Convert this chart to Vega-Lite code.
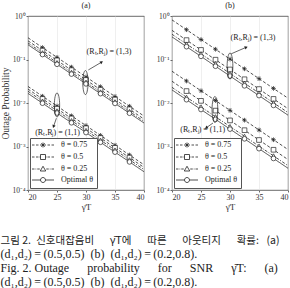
{
  "$schema": "https://vega.github.io/schema/vega-lite/v6.json",
  "background": "white",
  "padding": {"left": 0, "top": 1, "right": 0, "bottom": 0},
  "datasets": {
    "pts": [
      {"p":"a","g":"(1,3)","s":"θ = 0.75","x":20,"y":0.316},{"p":"a","g":"(1,3)","s":"θ = 0.75","x":22.5,"y":0.188},{"p":"a","g":"(1,3)","s":"θ = 0.75","x":25,"y":0.112},{"p":"a","g":"(1,3)","s":"θ = 0.75","x":27.5,"y":0.0668},{"p":"a","g":"(1,3)","s":"θ = 0.75","x":30,"y":0.0398},{"p":"a","g":"(1,3)","s":"θ = 0.75","x":32.5,"y":0.0237},{"p":"a","g":"(1,3)","s":"θ = 0.75","x":35,"y":0.0141},{"p":"a","g":"(1,3)","s":"θ = 0.75","x":37.5,"y":0.00841},{"p":"a","g":"(1,3)","s":"θ = 0.75","x":40,"y":0.00501},
      {"p":"a","g":"(1,3)","s":"θ = 0.5","x":20,"y":0.269},{"p":"a","g":"(1,3)","s":"θ = 0.5","x":22.5,"y":0.16},{"p":"a","g":"(1,3)","s":"θ = 0.5","x":25,"y":0.0955},{"p":"a","g":"(1,3)","s":"θ = 0.5","x":27.5,"y":0.0569},{"p":"a","g":"(1,3)","s":"θ = 0.5","x":30,"y":0.0339},{"p":"a","g":"(1,3)","s":"θ = 0.5","x":32.5,"y":0.0202},{"p":"a","g":"(1,3)","s":"θ = 0.5","x":35,"y":0.012},{"p":"a","g":"(1,3)","s":"θ = 0.5","x":37.5,"y":0.00716},{"p":"a","g":"(1,3)","s":"θ = 0.5","x":40,"y":0.00427},
      {"p":"a","g":"(1,3)","s":"θ = 0.25","x":20,"y":0.24},{"p":"a","g":"(1,3)","s":"θ = 0.25","x":22.5,"y":0.143},{"p":"a","g":"(1,3)","s":"θ = 0.25","x":25,"y":0.0851},{"p":"a","g":"(1,3)","s":"θ = 0.25","x":27.5,"y":0.0507},{"p":"a","g":"(1,3)","s":"θ = 0.25","x":30,"y":0.0302},{"p":"a","g":"(1,3)","s":"θ = 0.25","x":32.5,"y":0.018},{"p":"a","g":"(1,3)","s":"θ = 0.25","x":35,"y":0.0107},{"p":"a","g":"(1,3)","s":"θ = 0.25","x":37.5,"y":0.00638},{"p":"a","g":"(1,3)","s":"θ = 0.25","x":40,"y":0.0038},
      {"p":"a","g":"(1,3)","s":"Optimal θ","x":20,"y":0.219},{"p":"a","g":"(1,3)","s":"Optimal θ","x":22.5,"y":0.13},{"p":"a","g":"(1,3)","s":"Optimal θ","x":25,"y":0.0776},{"p":"a","g":"(1,3)","s":"Optimal θ","x":27.5,"y":0.0462},{"p":"a","g":"(1,3)","s":"Optimal θ","x":30,"y":0.0275},{"p":"a","g":"(1,3)","s":"Optimal θ","x":32.5,"y":0.0164},{"p":"a","g":"(1,3)","s":"Optimal θ","x":35,"y":0.00977},{"p":"a","g":"(1,3)","s":"Optimal θ","x":37.5,"y":0.00582},{"p":"a","g":"(1,3)","s":"Optimal θ","x":40,"y":0.00347},
      {"p":"a","g":"(1,1)","s":"θ = 0.75","x":20,"y":0.024},{"p":"a","g":"(1,1)","s":"θ = 0.75","x":22.5,"y":0.0143},{"p":"a","g":"(1,1)","s":"θ = 0.75","x":25,"y":0.00851},{"p":"a","g":"(1,1)","s":"θ = 0.75","x":27.5,"y":0.00507},{"p":"a","g":"(1,1)","s":"θ = 0.75","x":30,"y":0.00302},{"p":"a","g":"(1,1)","s":"θ = 0.75","x":32.5,"y":0.0018},{"p":"a","g":"(1,1)","s":"θ = 0.75","x":35,"y":0.00107},{"p":"a","g":"(1,1)","s":"θ = 0.75","x":37.5,"y":0.000638},{"p":"a","g":"(1,1)","s":"θ = 0.75","x":40,"y":0.00038},
      {"p":"a","g":"(1,1)","s":"θ = 0.5","x":20,"y":0.0209},{"p":"a","g":"(1,1)","s":"θ = 0.5","x":22.5,"y":0.0124},{"p":"a","g":"(1,1)","s":"θ = 0.5","x":25,"y":0.00741},{"p":"a","g":"(1,1)","s":"θ = 0.5","x":27.5,"y":0.00442},{"p":"a","g":"(1,1)","s":"θ = 0.5","x":30,"y":0.00263},{"p":"a","g":"(1,1)","s":"θ = 0.5","x":32.5,"y":0.00157},{"p":"a","g":"(1,1)","s":"θ = 0.5","x":35,"y":0.000933},{"p":"a","g":"(1,1)","s":"θ = 0.5","x":37.5,"y":0.000556},{"p":"a","g":"(1,1)","s":"θ = 0.5","x":40,"y":0.000331},
      {"p":"a","g":"(1,1)","s":"θ = 0.25","x":20,"y":0.0186},{"p":"a","g":"(1,1)","s":"θ = 0.25","x":22.5,"y":0.0111},{"p":"a","g":"(1,1)","s":"θ = 0.25","x":25,"y":0.00661},{"p":"a","g":"(1,1)","s":"θ = 0.25","x":27.5,"y":0.00394},{"p":"a","g":"(1,1)","s":"θ = 0.25","x":30,"y":0.00234},{"p":"a","g":"(1,1)","s":"θ = 0.25","x":32.5,"y":0.0014},{"p":"a","g":"(1,1)","s":"θ = 0.25","x":35,"y":0.000832},{"p":"a","g":"(1,1)","s":"θ = 0.25","x":37.5,"y":0.000496},{"p":"a","g":"(1,1)","s":"θ = 0.25","x":40,"y":0.000295},
      {"p":"a","g":"(1,1)","s":"Optimal θ","x":20,"y":0.0166},{"p":"a","g":"(1,1)","s":"Optimal θ","x":22.5,"y":0.00989},{"p":"a","g":"(1,1)","s":"Optimal θ","x":25,"y":0.00589},{"p":"a","g":"(1,1)","s":"Optimal θ","x":27.5,"y":0.00351},{"p":"a","g":"(1,1)","s":"Optimal θ","x":30,"y":0.00209},{"p":"a","g":"(1,1)","s":"Optimal θ","x":32.5,"y":0.00125},{"p":"a","g":"(1,1)","s":"Optimal θ","x":35,"y":0.000741},{"p":"a","g":"(1,1)","s":"Optimal θ","x":37.5,"y":0.000442},{"p":"a","g":"(1,1)","s":"Optimal θ","x":40,"y":0.000263},
      {"p":"b","g":"(1,3)","s":"θ = 0.75","x":20,"y":0.813},{"p":"b","g":"(1,3)","s":"θ = 0.75","x":22.5,"y":0.484},{"p":"b","g":"(1,3)","s":"θ = 0.75","x":25,"y":0.288},{"p":"b","g":"(1,3)","s":"θ = 0.75","x":27.5,"y":0.172},{"p":"b","g":"(1,3)","s":"θ = 0.75","x":30,"y":0.102},{"p":"b","g":"(1,3)","s":"θ = 0.75","x":32.5,"y":0.061},{"p":"b","g":"(1,3)","s":"θ = 0.75","x":35,"y":0.0363},{"p":"b","g":"(1,3)","s":"θ = 0.75","x":37.5,"y":0.0216},{"p":"b","g":"(1,3)","s":"θ = 0.75","x":40,"y":0.0129},
      {"p":"b","g":"(1,3)","s":"θ = 0.5","x":20,"y":0.468},{"p":"b","g":"(1,3)","s":"θ = 0.5","x":22.5,"y":0.279},{"p":"b","g":"(1,3)","s":"θ = 0.5","x":25,"y":0.166},{"p":"b","g":"(1,3)","s":"θ = 0.5","x":27.5,"y":0.0989},{"p":"b","g":"(1,3)","s":"θ = 0.5","x":30,"y":0.0589},{"p":"b","g":"(1,3)","s":"θ = 0.5","x":32.5,"y":0.0351},{"p":"b","g":"(1,3)","s":"θ = 0.5","x":35,"y":0.0209},{"p":"b","g":"(1,3)","s":"θ = 0.5","x":37.5,"y":0.0124},{"p":"b","g":"(1,3)","s":"θ = 0.5","x":40,"y":0.00741},
      {"p":"b","g":"(1,3)","s":"θ = 0.25","x":20,"y":0.38},{"p":"b","g":"(1,3)","s":"θ = 0.25","x":22.5,"y":0.227},{"p":"b","g":"(1,3)","s":"θ = 0.25","x":25,"y":0.135},{"p":"b","g":"(1,3)","s":"θ = 0.25","x":27.5,"y":0.0804},{"p":"b","g":"(1,3)","s":"θ = 0.25","x":30,"y":0.0479},{"p":"b","g":"(1,3)","s":"θ = 0.25","x":32.5,"y":0.0285},{"p":"b","g":"(1,3)","s":"θ = 0.25","x":35,"y":0.017},{"p":"b","g":"(1,3)","s":"θ = 0.25","x":37.5,"y":0.0101},{"p":"b","g":"(1,3)","s":"θ = 0.25","x":40,"y":0.00603},
      {"p":"b","g":"(1,3)","s":"Optimal θ","x":20,"y":0.331},{"p":"b","g":"(1,3)","s":"Optimal θ","x":22.5,"y":0.197},{"p":"b","g":"(1,3)","s":"Optimal θ","x":25,"y":0.118},{"p":"b","g":"(1,3)","s":"Optimal θ","x":27.5,"y":0.07},{"p":"b","g":"(1,3)","s":"Optimal θ","x":30,"y":0.0417},{"p":"b","g":"(1,3)","s":"Optimal θ","x":32.5,"y":0.0248},{"p":"b","g":"(1,3)","s":"Optimal θ","x":35,"y":0.0148},{"p":"b","g":"(1,3)","s":"Optimal θ","x":37.5,"y":0.00881},{"p":"b","g":"(1,3)","s":"Optimal θ","x":40,"y":0.00525},
      {"p":"b","g":"(1,1)","s":"θ = 0.75","x":20,"y":0.0537},{"p":"b","g":"(1,1)","s":"θ = 0.75","x":22.5,"y":0.032},{"p":"b","g":"(1,1)","s":"θ = 0.75","x":25,"y":0.0191},{"p":"b","g":"(1,1)","s":"θ = 0.75","x":27.5,"y":0.0114},{"p":"b","g":"(1,1)","s":"θ = 0.75","x":30,"y":0.00676},{"p":"b","g":"(1,1)","s":"θ = 0.75","x":32.5,"y":0.00403},{"p":"b","g":"(1,1)","s":"θ = 0.75","x":35,"y":0.0024},{"p":"b","g":"(1,1)","s":"θ = 0.75","x":37.5,"y":0.00143},{"p":"b","g":"(1,1)","s":"θ = 0.75","x":40,"y":0.000851},
      {"p":"b","g":"(1,1)","s":"θ = 0.5","x":20,"y":0.0316},{"p":"b","g":"(1,1)","s":"θ = 0.5","x":22.5,"y":0.0188},{"p":"b","g":"(1,1)","s":"θ = 0.5","x":25,"y":0.0112},{"p":"b","g":"(1,1)","s":"θ = 0.5","x":27.5,"y":0.00668},{"p":"b","g":"(1,1)","s":"θ = 0.5","x":30,"y":0.00398},{"p":"b","g":"(1,1)","s":"θ = 0.5","x":32.5,"y":0.00237},{"p":"b","g":"(1,1)","s":"θ = 0.5","x":35,"y":0.00141},{"p":"b","g":"(1,1)","s":"θ = 0.5","x":37.5,"y":0.000841},{"p":"b","g":"(1,1)","s":"θ = 0.5","x":40,"y":0.000501},
      {"p":"b","g":"(1,1)","s":"θ = 0.25","x":20,"y":0.0229},{"p":"b","g":"(1,1)","s":"θ = 0.25","x":22.5,"y":0.0136},{"p":"b","g":"(1,1)","s":"θ = 0.25","x":25,"y":0.00813},{"p":"b","g":"(1,1)","s":"θ = 0.25","x":27.5,"y":0.00484},{"p":"b","g":"(1,1)","s":"θ = 0.25","x":30,"y":0.00288},{"p":"b","g":"(1,1)","s":"θ = 0.25","x":32.5,"y":0.00172},{"p":"b","g":"(1,1)","s":"θ = 0.25","x":35,"y":0.00102},{"p":"b","g":"(1,1)","s":"θ = 0.25","x":37.5,"y":0.00061},{"p":"b","g":"(1,1)","s":"θ = 0.25","x":40,"y":0.000363},
      {"p":"b","g":"(1,1)","s":"Optimal θ","x":20,"y":0.02},{"p":"b","g":"(1,1)","s":"Optimal θ","x":22.5,"y":0.0119},{"p":"b","g":"(1,1)","s":"Optimal θ","x":25,"y":0.00708},{"p":"b","g":"(1,1)","s":"Optimal θ","x":27.5,"y":0.00422},{"p":"b","g":"(1,1)","s":"Optimal θ","x":30,"y":0.00251},{"p":"b","g":"(1,1)","s":"Optimal θ","x":32.5,"y":0.0015},{"p":"b","g":"(1,1)","s":"Optimal θ","x":35,"y":0.000891},{"p":"b","g":"(1,1)","s":"Optimal θ","x":37.5,"y":0.000531},{"p":"b","g":"(1,1)","s":"Optimal θ","x":40,"y":0.000316}
    ],
    "ann": [
      {"p":"a","k":"ell","x":29.9,"y":0.0295},
      {"p":"a","k":"ell","x":25,"y":0.009},
      {"p":"a","k":"arr","g":"(1,3)","x":30.4,"y":0.0575,"x2":32.7,"y2":0.0871},
      {"p":"a","k":"arr","g":"(1,1)","x":24.9,"y":0.00447,"x2":24.4,"y2":0.00288},
      {"p":"a","k":"head","g":"(1,3)","x":32.7,"y":0.0871},
      {"p":"a","k":"head","g":"(1,1)","x":24.4,"y":0.00288},
      {"p":"a","k":"lab","x":33.97,"y":0.148,"t":"(Rₜ,Rⱼ) = (1,3)"},
      {"p":"a","k":"lab","x":25.1,"y":0.00204,"t":"(Rₜ,Rⱼ) = (1,1)"},
      {"p":"b","k":"ell","x":30,"y":0.0708},
      {"p":"b","k":"ell","x":27.4,"y":0.00708},
      {"p":"b","k":"arr","g":"(1,3)","x":30.2,"y":0.135,"x2":32.8,"y2":0.191},
      {"p":"b","k":"arr","g":"(1,1)","x":27.07,"y":0.00347,"x2":25.9,"y2":0.00269},
      {"p":"b","k":"head","g":"(1,3)","x":32.8,"y":0.191},
      {"p":"b","k":"head","g":"(1,1)","x":25.9,"y":0.00269},
      {"p":"b","k":"lab","x":33.97,"y":0.309,"t":"(Rₜ,Rⱼ) = (1,3)"},
      {"p":"b","k":"lab","x":25.3,"y":0.00245,"t":"(Rₜ,Rⱼ) = (1,1)"}
    ]
  },
  "spacing": 9,
  "title": {
    "text": "그림 2.\u2002신호대잡음비\u2003\u2002γ̄T에\u2003\u2002따른\u2003\u2002아웃티지\u2003\u2002확률:\u2002 (a)",
    "subtitle": ["(d₁,d₂)\u2009=\u2009(0.5,0.5)\u2002(b)\u2002(d₁,d₂)\u2009=\u2009(0.2,0.8).", "Fig. 2. Outage\u2003\u2002probability\u2003\u2002for\u2003\u2002SNR\u2003\u2002γ̄T:\u2003\u2002(a)", "(d₁,d₂)\u2009=\u2009(0.5,0.5)\u2002(b)\u2002(d₁,d₂)\u2009=\u2009(0.2,0.8)."],
    "orient": "bottom",
    "anchor": "start",
    "frame": "bounds",
    "offset": 25,
    "font": "Noto Sans CJK KR",
    "fontSize": 10.5,
    "fontWeight": "normal",
    "lineHeight": 14,
    "color": "#222",
    "subtitleFont": "Liberation Serif",
    "subtitleFontSize": 12,
    "subtitleLineHeight": 14.3,
    "subtitlePadding": 2,
    "subtitleColor": "#222"
  },
  "hconcat": [
    {
      "width": 116,
      "height": 174,
      "title": {"text": "(a)", "font": "Liberation Serif", "fontSize": 8, "fontWeight": "normal", "offset": 2, "color": "#222"},
      "encoding": {
        "x": {"field": "x", "type": "quantitative", "title": "γ̄T",
          "scale": {"domain": [20, 40], "nice": false, "zero": false},
          "axis": {"values": [20, 25, 30, 35, 40], "labelFont": "Liberation Serif", "labelFontSize": 8, "labelColor": "#333", "tickSize": 2, "tickColor": "#666", "domain": false, "grid": true, "gridColor": "#e4e4e4", "gridWidth": 0.6, "labelPadding": 1, "titleFont": "Liberation Serif", "titleFontSize": 9, "titleFontWeight": "normal", "titlePadding": 1, "titleColor": "#333"}},
        "y": {"field": "y", "type": "quantitative", "title": "Outage Probability",
          "scale": {"type": "log", "domain": [0.0001, 1], "nice": false},
          "axis": {"values": [0.0001, 0.001, 0.01, 0.1, 1], "labelExpr": "['10⁰','10⁻¹','10⁻²','10⁻³','10⁻⁴'][round(-log(datum.value)/LN10)]", "labelFont": "Liberation Serif", "labelFontSize": 7.5, "labelColor": "#333", "tickSize": 2, "tickColor": "#666", "domain": false, "grid": false, "labelPadding": 1, "titleFont": "Liberation Serif", "titleFontSize": 9.5, "titleFontWeight": "normal", "titlePadding": 1, "titleColor": "#333"}}
      },
      "layer": [
        {"data": {"name": "pts"}, "transform": [{"filter": "datum.p == 'a'"}],
         "mark": {"type": "line", "stroke": "#222", "strokeWidth": 0.8},
         "encoding": {"detail": {"field": "g"},
           "strokeDash": {"field": "s", "scale": {"domain": ["θ = 0.75", "θ = 0.5", "θ = 0.25", "Optimal θ"], "range": [[3, 2], [3, 2], [3, 1.5, 1, 1.5], [1, 0]]}, "legend": null}}},
        {"data": {"name": "pts"}, "transform": [{"filter": "datum.p == 'a' && datum.x > 20 && datum.x < 40"}],
         "mark": {"type": "point", "filled": true, "fill": "white", "stroke": "#222", "strokeWidth": 0.7, "size": 22, "opacity": 1},
         "encoding": {"shape": {"field": "s", "scale": {"domain": ["θ = 0.75", "θ = 0.5", "θ = 0.25", "Optimal θ"], "range": ["M-1,0H1M0,-1V1M-0.7,-0.7L0.7,0.7M-0.7,0.7L0.7,-0.7", "square", "triangle-up", "circle"]}, "legend": null}}},
        {"data": {"name": "pts"}, "transform": [{"filter": "datum.p == 'a' && datum.g == '(1,3)' && datum.x == 20"}],
         "mark": {"type": "point", "filled": false, "stroke": "#222", "size": 0},
         "encoding": {"shape": {"field": "s", "scale": {"domain": ["θ = 0.75", "θ = 0.5", "θ = 0.25", "Optimal θ"], "range": [
             "M-4.4,0H-3.4M-2.8,0H-1.8M-1.2,0H1.2M1.8,0H2.8M3.4,0H4.4M0,-1V1M-0.7,-0.7L0.7,0.7M-0.7,0.7L0.7,-0.7",
             "M-4.4,0H-3.4M-2.8,0H-1.8M-1.4,0H-1M1,0H1.4M1.8,0H2.8M3.4,0H4.4M-1,-1H1V1H-1Z",
             "M-4.4,0H-3.4M-3,0H-2.7M-2.3,0H-1.3M1.3,0H2.3M2.7,0H3M3.4,0H4.4M0,-1.1L1.1,0.8H-1.1Z",
             "M-4.4,0H-1M1,0H4.4M-1,0A1,1 0 1,0 1,0A1,1 0 1,0 -1,0"]},
           "legend": {"title": null, "orient": "bottom-left", "offset": 2, "padding": 3, "strokeColor": "#555", "fillColor": "white", "symbolSize": 25, "symbolStrokeWidth": 0.8, "symbolStrokeColor": "#222", "symbolFillColor": "white", "symbolOpacity": 1, "symbolOffset": 6, "labelOffset": 14, "labelFont": "Liberation Serif", "labelFontSize": 8, "labelColor": "#222", "rowPadding": 2}}}},
        {"data": {"name": "ann"}, "transform": [{"filter": "datum.p == 'a' && datum.k == 'ell'"}],
         "mark": {"type": "point", "shape": "M0,-1A0.22,1 0 1,1 0,1A0.22,1 0 1,1 0,-1", "size": 576, "filled": false, "stroke": "#222", "strokeWidth": 0.7, "opacity": 1}},
        {"data": {"name": "ann"}, "transform": [{"filter": "datum.p == 'a' && datum.k == 'arr'"}],
         "mark": {"type": "rule", "stroke": "#222", "strokeWidth": 0.7},
         "encoding": {"x2": {"field": "x2"}, "y2": {"field": "y2"}}},
        {"data": {"name": "ann"}, "transform": [{"filter": "datum.p == 'a' && datum.k == 'head' && datum.g == '(1,3)'"}],
         "mark": {"type": "point", "shape": "triangle-up", "size": 12, "filled": true, "fill": "#222", "stroke": null, "angle": 58, "opacity": 1}},
        {"data": {"name": "ann"}, "transform": [{"filter": "datum.p == 'a' && datum.k == 'head' && datum.g == '(1,1)'"}],
         "mark": {"type": "point", "shape": "triangle-up", "size": 12, "filled": true, "fill": "#222", "stroke": null, "angle": 200, "opacity": 1}},
        {"data": {"name": "ann"}, "transform": [{"filter": "datum.p == 'a' && datum.k == 'lab'"}],
         "mark": {"type": "text", "font": "Liberation Serif", "fontSize": 8, "fill": "#222", "align": "center", "baseline": "middle"},
         "encoding": {"text": {"field": "t"}}}
      ],
      "resolve": {"scale": {"shape": "independent"}}
    },
    {
      "width": 116,
      "height": 174,
      "title": {"text": "(b)", "font": "Liberation Serif", "fontSize": 8, "fontWeight": "normal", "offset": 2, "color": "#222"},
      "encoding": {
        "x": {"field": "x", "type": "quantitative", "title": "γ̄T",
          "scale": {"domain": [20, 40], "nice": false, "zero": false},
          "axis": {"values": [20, 25, 30, 35, 40], "labelFont": "Liberation Serif", "labelFontSize": 8, "labelColor": "#333", "tickSize": 2, "tickColor": "#666", "domain": false, "grid": true, "gridColor": "#e4e4e4", "gridWidth": 0.6, "labelPadding": 1, "titleFont": "Liberation Serif", "titleFontSize": 9, "titleFontWeight": "normal", "titlePadding": 1, "titleColor": "#333"}},
        "y": {"field": "y", "type": "quantitative", "title": null,
          "scale": {"type": "log", "domain": [0.0001, 1], "nice": false},
          "axis": {"values": [0.0001, 0.001, 0.01, 0.1, 1], "labelExpr": "['10⁰','10⁻¹','10⁻²','10⁻³','10⁻⁴'][round(-log(datum.value)/LN10)]", "labelFont": "Liberation Serif", "labelFontSize": 7.5, "labelColor": "#333", "tickSize": 2, "tickColor": "#666", "domain": false, "grid": false, "labelPadding": 1}}
      },
      "layer": [
        {"data": {"name": "pts"}, "transform": [{"filter": "datum.p == 'b'"}],
         "mark": {"type": "line", "stroke": "#222", "strokeWidth": 0.8},
         "encoding": {"detail": {"field": "g"},
           "strokeDash": {"field": "s", "scale": {"domain": ["θ = 0.75", "θ = 0.5", "θ = 0.25", "Optimal θ"], "range": [[3, 2], [3, 2], [3, 1.5, 1, 1.5], [1, 0]]}, "legend": null}}},
        {"data": {"name": "pts"}, "transform": [{"filter": "datum.p == 'b' && datum.x > 20 && datum.x < 40"}],
         "mark": {"type": "point", "filled": true, "fill": "white", "stroke": "#222", "strokeWidth": 0.7, "size": 22, "opacity": 1},
         "encoding": {"shape": {"field": "s", "scale": {"domain": ["θ = 0.75", "θ = 0.5", "θ = 0.25", "Optimal θ"], "range": ["M-1,0H1M0,-1V1M-0.7,-0.7L0.7,0.7M-0.7,0.7L0.7,-0.7", "square", "triangle-up", "circle"]}, "legend": null}}},
        {"data": {"name": "pts"}, "transform": [{"filter": "datum.p == 'b' && datum.g == '(1,3)' && datum.x == 20"}],
         "mark": {"type": "point", "filled": false, "stroke": "#222", "size": 0},
         "encoding": {"shape": {"field": "s", "scale": {"domain": ["θ = 0.75", "θ = 0.5", "θ = 0.25", "Optimal θ"], "range": [
             "M-4.4,0H-3.4M-2.8,0H-1.8M-1.2,0H1.2M1.8,0H2.8M3.4,0H4.4M0,-1V1M-0.7,-0.7L0.7,0.7M-0.7,0.7L0.7,-0.7",
             "M-4.4,0H-3.4M-2.8,0H-1.8M-1.4,0H-1M1,0H1.4M1.8,0H2.8M3.4,0H4.4M-1,-1H1V1H-1Z",
             "M-4.4,0H-3.4M-3,0H-2.7M-2.3,0H-1.3M1.3,0H2.3M2.7,0H3M3.4,0H4.4M0,-1.1L1.1,0.8H-1.1Z",
             "M-4.4,0H-1M1,0H4.4M-1,0A1,1 0 1,0 1,0A1,1 0 1,0 -1,0"]},
           "legend": {"title": null, "orient": "bottom-left", "offset": 2, "padding": 3, "strokeColor": "#555", "fillColor": "white", "symbolSize": 25, "symbolStrokeWidth": 0.8, "symbolStrokeColor": "#222", "symbolFillColor": "white", "symbolOpacity": 1, "symbolOffset": 6, "labelOffset": 14, "labelFont": "Liberation Serif", "labelFontSize": 8, "labelColor": "#222", "rowPadding": 2}}}},
        {"data": {"name": "ann"}, "transform": [{"filter": "datum.p == 'b' && datum.k == 'ell'"}],
         "mark": {"type": "point", "shape": "M0,-1A0.22,1 0 1,1 0,1A0.22,1 0 1,1 0,-1", "size": 676, "filled": false, "stroke": "#222", "strokeWidth": 0.7, "opacity": 1}},
        {"data": {"name": "ann"}, "transform": [{"filter": "datum.p == 'b' && datum.k == 'arr'"}],
         "mark": {"type": "rule", "stroke": "#222", "strokeWidth": 0.7},
         "encoding": {"x2": {"field": "x2"}, "y2": {"field": "y2"}}},
        {"data": {"name": "ann"}, "transform": [{"filter": "datum.p == 'b' && datum.k == 'head' && datum.g == '(1,3)'"}],
         "mark": {"type": "point", "shape": "triangle-up", "size": 12, "filled": true, "fill": "#222", "stroke": null, "angle": 67, "opacity": 1}},
        {"data": {"name": "ann"}, "transform": [{"filter": "datum.p == 'b' && datum.k == 'head' && datum.g == '(1,1)'"}],
         "mark": {"type": "point", "shape": "triangle-up", "size": 12, "filled": true, "fill": "#222", "stroke": null, "angle": 233, "opacity": 1}},
        {"data": {"name": "ann"}, "transform": [{"filter": "datum.p == 'b' && datum.k == 'lab'"}],
         "mark": {"type": "text", "font": "Liberation Serif", "fontSize": 8, "fill": "#222", "align": "center", "baseline": "middle"},
         "encoding": {"text": {"field": "t"}}}
      ],
      "resolve": {"scale": {"shape": "independent"}}
    }
  ],
  "resolve": {"scale": {"shape": "independent", "strokeDash": "independent"}, "legend": {"shape": "independent"}},
  "config": {"view": {"stroke": "#444", "strokeWidth": 0.8}, "font": "Liberation Serif"}
}
